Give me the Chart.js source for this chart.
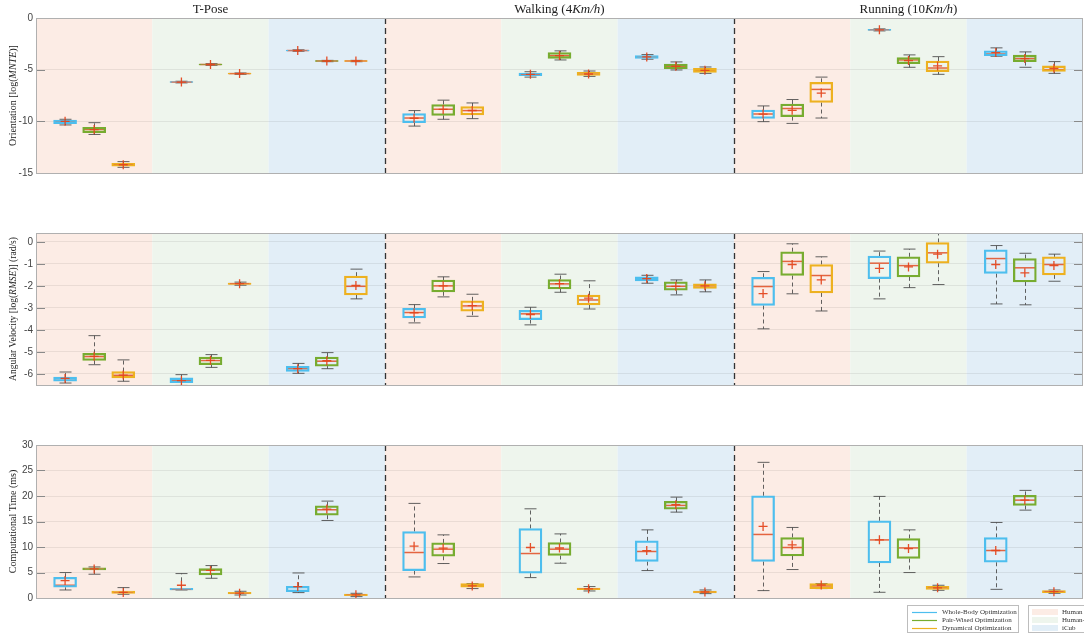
<!DOCTYPE html>
<html><head><meta charset="utf-8">
<script src="https://cdn.jsdelivr.net/npm/chart.js@4/dist/chart.umd.min.js"></script>
<style>
body{margin:0;background:#fff;width:1084px;height:637px;overflow:hidden;position:relative}
canvas{position:absolute;left:0}
</style></head><body>
<canvas id="c1" width="1084" height="185" style="top:0"></canvas>
<canvas id="c2" width="1084" height="175" style="top:222px"></canvas>
<canvas id="c3" width="1084" height="202" style="top:435px"></canvas>
<script>
// ---------- categories / labels ----------
const scenarios = ['T-Pose', 'Walking (4Km/h)', 'Running (10Km/h)'];
const subjects = ['Human', 'Human-', 'iCub'];
const methods = ['Whole-Body Optimization', 'Pair-Wised Optimization', 'Dynamical Optimization'];
const yLabels = ['Orientation [log(MNTE)]', 'Angular Velocity [log(RMSE)] (rad/s)', 'Computational Time (ms)'];
const oriTicks = [-15, -10, -5, 0];
const angTicks = [-6, -5, -4, -3, -2, -1, 0];
const timeTicks = [0, 5, 10, 15, 20, 25, 30];

// ---------- box statistics: order = scenario x subject x method (27 boxes) ----------
const oriLo  = [-10.35,-11.27,-14.45, -6.28,-4.58,-5.45, -3.22,-4.23,-4.23, -10.46,-9.8,-9.74, -5.72,-4.06,-5.65, -3.99,-5.03,-5.36, -10.03,-10.2,-9.68, -1.25,-4.77,-5.45, -3.7,-4.77,-5.36];
const oriQ1  = [-10.22,-11.1,-14.35, -6.24,-4.54,-5.41, -3.18,-4.19,-4.19, -10.13,-9.42,-9.38, -5.59,-3.9,-5.55, -3.9,-4.9,-5.26, -9.71,-9.54,-8.18, -1.19,-4.42,-5.2, -3.64,-4.22,-5.16];
const oriMed = [-10.02,-10.78,-14.2, -6.2,-4.5,-5.38, -3.15,-4.16,-4.16, -9.68,-8.83,-8.96, -5.45,-3.64,-5.42, -3.77,-4.67,-5.06, -9.29,-8.76,-6.91, -1.14,-4.06,-4.84, -3.48,-3.93,-5.0];
const oriQ3  = [-9.87,-10.58,-14.06, -6.16,-4.46,-5.35, -3.12,-4.13,-4.13, -9.25,-8.37,-8.57, -5.33,-3.35,-5.26, -3.64,-4.45,-4.87, -8.9,-8.32,-6.23, -1.1,-3.83,-4.16, -3.18,-3.6,-4.64];
const oriHi  = [-9.8,-10.13,-13.9, -6.12,-4.42,-5.32, -3.08,-4.1,-4.1, -8.96,-7.95,-8.22, -5.2,-3.18,-5.13, -3.54,-4.25,-4.74, -8.51,-7.89,-5.72, -1.05,-3.57,-3.74, -2.89,-3.28,-4.22];
const oriMean= [-10.0,-10.8,-14.2, -6.2,-4.5,-5.38, -3.15,-4.16,-4.16, -9.7,-8.85,-8.95, -5.45,-3.64,-5.42, -3.77,-4.67,-5.06, -9.3,-8.93,-7.27, -1.14,-4.12,-4.64, -3.35,-3.93,-4.87];

const angLo  = [-6.41,-5.58,-6.33, -6.52,-5.7,-1.97, -5.97,-5.76,-2.59, -3.68,-2.5,-3.38, -3.77,-2.29,-3.05, -1.88,-2.41,-2.27, -3.95,-2.36,-3.14, -2.59,-2.08,-1.94, -2.82,-2.86,-1.79];
const angQ1  = [-6.33,-5.38,-6.18, -6.39,-5.58,-1.93, -5.88,-5.64,-2.41, -3.45,-2.27,-3.15, -3.53,-2.14,-2.86, -1.77,-2.2,-2.12, -2.89,-1.53,-2.32, -1.67,-1.59,-0.97, -1.44,-1.82,-1.5];
const angMed = [-6.21,-5.21,-6.06, -6.29,-5.39,-1.9, -5.76,-5.42,-2.02, -3.21,-2.0,-2.91, -3.27,-1.91,-2.64, -1.67,-2.02,-2.0, -2.03,-0.89,-1.53, -0.97,-1.08,-0.5, -0.76,-1.18,-1.03];
const angQ3  = [-6.14,-5.06,-5.89, -6.18,-5.23,-1.87, -5.65,-5.23,-1.56, -3.02,-1.74,-2.68, -3.11,-1.71,-2.42, -1.59,-1.82,-1.91, -1.61,-0.45,-1.03, -0.65,-0.68,-0.03, -0.36,-0.76,-0.68];
const angHi  = [-5.91,-4.26,-5.36, -6.03,-5.12,-1.83, -5.52,-5.03,-1.24, -2.85,-1.59,-2.38, -2.97,-1.47,-1.77, -1.52,-1.73,-1.73, -1.35,-0.09,-0.68, -0.42,-0.33,0.44, -0.17,-0.52,-0.56];
const angMean= [-6.2,-5.2,-6.05, -6.3,-5.38,-1.9, -5.76,-5.4,-1.98, -3.22,-2.0,-2.9, -3.3,-1.9,-2.56, -1.67,-2.02,-2.0, -2.35,-1.03,-1.73, -1.21,-1.14,-0.56, -1.03,-1.41,-1.08];

const timeLo  = [1.57,4.66,0.73, 1.57,3.87,0.59, 1.06,15.2,0.27, 4.13,6.76,1.85, 4.0,6.82,1.38, 5.38,16.84,0.86, 1.45,5.58,1.85, 1.12,4.99,1.51, 1.7,17.23,0.92];
const timeQ1  = [2.1,5.5,0.92, 1.57,4.52,0.79, 1.26,16.25,0.46, 5.38,8.19,2.1, 4.85,8.33,1.65, 7.15,17.43,0.98, 7.15,8.25,1.85, 6.88,7.74,1.7, 7.01,18.15,1.06];
const timeMed = [2.5,5.7,1.12, 1.7,5.5,0.95, 1.38,17.3,0.62, 8.92,9.57,2.36, 8.72,9.57,1.8, 9.12,18.15,1.18, 12.46,9.9,2.36, 11.39,9.82,2.0, 9.31,19.19,1.25];
const timeQ3  = [4.07,5.9,1.38, 1.9,5.77,1.12, 2.3,18.08,0.79, 13.04,10.8,2.83, 13.63,10.88,1.96, 11.2,18.94,1.38, 20.04,11.87,2.83, 15.13,11.67,2.3, 11.87,20.11,1.45];
const timeHi  = [4.99,6.09,2.04, 4.79,6.36,1.32, 4.91,19.0,0.92, 18.55,12.38,2.83, 17.49,12.57,2.24, 13.36,19.78,1.57, 26.6,13.83,2.83, 19.92,13.36,2.5, 14.81,21.1,1.57];
const timeMean= [3.42,5.7,1.1, 2.5,5.4,0.95, 2.24,17.43,0.62, 10.16,9.76,2.36, 9.9,9.8,1.8, 9.3,18.3,1.18, 14.03,10.41,2.55, 11.4,9.7,2.0, 9.31,19.2,1.25];

// ---------- styles ----------
const methodColors = ['#4DBEEE', '#77AC30', '#EDB120'];
const bgColors = ['#fcece5', '#eef5ed', '#e2eef7'];
const SERIF = '"Liberation Serif", "DejaVu Serif", serif';
const SANS = '"Liberation Sans", Arial, sans-serif';

function xpos(i) { return Math.floor(i / 3) + 0.25 * (i % 3 + 1); }

function segs(text) {
  return text.split(/(Km\/h|MNTE|RMSE)/).map((t, k) => [t, k % 2 === 1]).filter(s => s[0].length);
}
function drawSegs(ctx, text, cx, cy, size) {
  const parts = segs(text);
  let total = 0;
  parts.forEach(p => { ctx.font = (p[1] ? 'italic ' : '') + size + 'px ' + SERIF; total += ctx.measureText(p[0]).width; });
  let x = cx - total / 2;
  ctx.textAlign = 'left'; ctx.textBaseline = 'middle';
  parts.forEach(p => { ctx.font = (p[1] ? 'italic ' : '') + size + 'px ' + SERIF; ctx.fillText(p[0], x, cy); x += ctx.measureText(p[0]).width; });
}

function makeChart(id, st, ticks, ymin, ymax, pad, label, labelSize, extra) {
  const [lo, q1, med, q3, hi, mean] = st;
  const datasets = [0, 1, 2].map(m => ({
    type: 'bar',
    label: methods[m],
    data: q1.map((v, i) => ({ x: xpos(i), y: [q1[i], q3[i]] })).filter((d, i) => i % 3 === m),
    borderColor: methodColors[m],
    backgroundColor: 'rgba(0,0,0,0)',
    borderWidth: 1.6,
    borderSkipped: false,
    barThickness: 23,
    grouped: false,
    order: 2
  }));
  datasets.push({
    type: 'scatter',
    label: 'mean',
    data: mean.map((v, i) => ({ x: xpos(i), y: v })),
    pointStyle: 'cross',
    pointRadius: 4.5,
    pointBorderWidth: 1.3,
    pointBorderColor: 'rgba(228,70,30,0.95)',
    pointBackgroundColor: 'rgba(228,70,30,0.95)',
    order: 0
  });
  const plugin = {
    id: 'deco_' + id,
    beforeDraw(chart) {
      const { ctx, chartArea: a, scales: { x } } = chart;
      ctx.save();
      for (let r = 0; r < 9; r++) {
        const x0 = x.getPixelForValue(r), x1 = x.getPixelForValue(r + 1);
        ctx.fillStyle = bgColors[r % 3];
        ctx.fillRect(x0, a.top, x1 - x0, a.bottom - a.top);
      }
      ctx.restore();
    },
    beforeDatasetsDraw(chart) {
      const { ctx, chartArea: a, scales: { x, y } } = chart;
      ctx.save();
      ctx.beginPath(); ctx.rect(a.left, a.top, a.right - a.left, a.bottom - a.top); ctx.clip();
      // scenario dividers
      ctx.strokeStyle = '#333'; ctx.lineWidth = 1.3; ctx.setLineDash([6, 4]);
      [3, 6].forEach(v => { const px = Math.round(x.getPixelForValue(v)) + 0.5; ctx.beginPath(); ctx.moveTo(px, a.top); ctx.lineTo(px, a.bottom); ctx.stroke(); });
      // whiskers
      ctx.strokeStyle = 'rgba(70,70,70,0.85)'; ctx.lineWidth = 1;
      for (let i = 0; i < q1.length; i++) {
        const cx = Math.round(x.getPixelForValue(xpos(i))) + 0.5;
        const yl = y.getPixelForValue(lo[i]), yh = y.getPixelForValue(hi[i]);
        const y1 = y.getPixelForValue(q1[i]), y3 = y.getPixelForValue(q3[i]);
        ctx.setLineDash([4, 3]);
        ctx.beginPath(); ctx.moveTo(cx, y3); ctx.lineTo(cx, yh); ctx.moveTo(cx, y1); ctx.lineTo(cx, yl); ctx.stroke();
        ctx.setLineDash([]);
        ctx.beginPath(); ctx.moveTo(cx - 6, yh); ctx.lineTo(cx + 6, yh); ctx.moveTo(cx - 6, yl); ctx.lineTo(cx + 6, yl); ctx.stroke();
      }
      // medians
      ctx.strokeStyle = 'rgba(225,85,45,0.9)'; ctx.lineWidth = 1.5;
      for (let i = 0; i < med.length; i++) {
        const cx = x.getPixelForValue(xpos(i)), ym = y.getPixelForValue(med[i]);
        ctx.beginPath(); ctx.moveTo(cx - 11, ym); ctx.lineTo(cx + 11, ym); ctx.stroke();
      }
      ctx.restore();
    },
    afterDraw(chart) {
      const { ctx, chartArea: a, scales: { y } } = chart;
      ctx.save();
      // inner ticks
      ctx.strokeStyle = '#8a8a8a'; ctx.lineWidth = 1;
      y.ticks.forEach(t => {
        const py = Math.round(y.getPixelForValue(t.value)) + 0.5;
        ctx.beginPath(); ctx.moveTo(a.left, py); ctx.lineTo(a.left + 9, py); ctx.moveTo(a.right - 9, py); ctx.lineTo(a.right, py); ctx.stroke();
      });
      // frame
      ctx.strokeStyle = '#b0b0b0'; ctx.lineWidth = 1;
      ctx.strokeRect(Math.round(a.left) + 0.5, Math.round(a.top) + 0.5, Math.round(a.right - a.left) - 1, Math.round(a.bottom - a.top));
      // y label
      ctx.fillStyle = '#222';
      ctx.translate(13, (a.top + a.bottom) / 2);
      ctx.rotate(-Math.PI / 2);
      drawSegs(ctx, label, 0, 0, labelSize);
      ctx.restore();
      if (extra) extra(chart);
    }
  };
  return new Chart(document.getElementById(id), {
    type: 'bar',
    data: { datasets },
    options: {
      responsive: false, animation: false,
      events: [],
      layout: { padding: pad, autoPadding: false },
      plugins: { legend: { display: false }, tooltip: { enabled: false } },
      scales: {
        x: { type: 'linear', min: 0, max: 9, offset: false, display: false },
        y: {
          min: ymin, max: ymax,
          afterBuildTicks: s => { s.ticks = ticks.map(v => ({ value: v })); },
          afterFit: s => { s.width = 36; },
          ticks: { font: { family: SANS, size: 10 }, color: '#444', padding: 3 },
          grid: { color: 'rgba(0,0,0,0.07)', drawTicks: false },
          border: { display: false }
        }
      }
    },
    plugins: [plugin]
  });
}

function titles(chart) {
  const { ctx, chartArea: a, scales: { x } } = chart;
  ctx.save(); ctx.fillStyle = '#222';
  scenarios.forEach((s, k) => {
    const cx = (x.getPixelForValue(k * 3) + x.getPixelForValue(k * 3 + 3)) / 2;
    drawSegs(ctx, s, cx, 10, 13);
  });
  ctx.restore();
}

function legend(chart) {
  const ctx = chart.ctx, top = 435;
  ctx.save();
  ctx.strokeStyle = '#bdbdbd'; ctx.lineWidth = 1;
  ctx.strokeRect(907.5, 605.5 - top, 111, 27);
  ctx.strokeRect(1028.5, 605.5 - top, 60, 27);
  const rows = [612, 620, 628];
  ctx.font = '7px ' + SERIF; ctx.fillStyle = '#333'; ctx.textAlign = 'left'; ctx.textBaseline = 'middle';
  methods.forEach((m, k) => {
    const yy = rows[k] - top + 0.5;
    ctx.strokeStyle = methodColors[k]; ctx.lineWidth = 1.2;
    ctx.beginPath(); ctx.moveTo(912, yy); ctx.lineTo(937, yy); ctx.stroke();
    ctx.fillText(m, 942, yy);
  });
  subjects.forEach((s, k) => {
    const yy = rows[k] - top;
    ctx.fillStyle = bgColors[k]; ctx.fillRect(1032, yy - 3, 26, 6);
    ctx.fillStyle = '#333'; ctx.fillText(s, 1062, yy + 0.5);
  });
  ctx.restore();
}

makeChart('c1', [oriLo, oriQ1, oriMed, oriQ3, oriHi, oriMean], oriTicks, -15, 0, { top: 18, bottom: 12, left: 0, right: 1 }, yLabels[0], 10, titles);
makeChart('c2', [angLo, angQ1, angMed, angQ3, angHi, angMean], angTicks, -6.5, 0.4, { top: 11, bottom: 12, left: 0, right: 1 }, yLabels[1], 9.5, null);
makeChart('c3', [timeLo, timeQ1, timeMed, timeQ3, timeHi, timeMean], timeTicks, 0, 30, { top: 10, bottom: 39, left: 0, right: 1 }, yLabels[2], 10, legend);
</script>
</body></html>
